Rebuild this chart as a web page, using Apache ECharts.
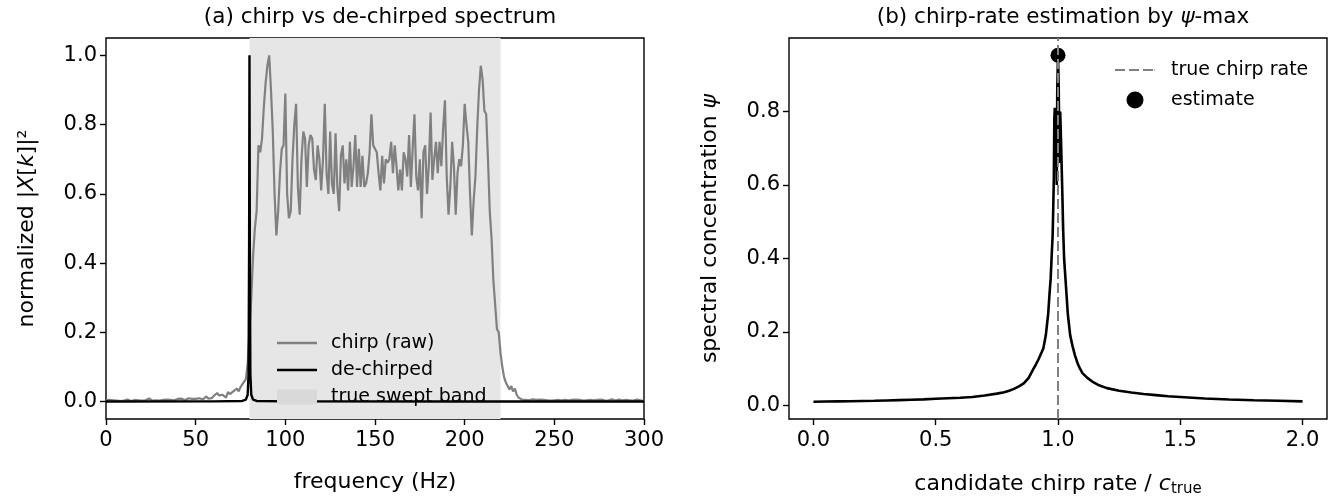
<!DOCTYPE html>
<html>
<head>
<meta charset="utf-8">
<script src="https://cdn.jsdelivr.net/npm/echarts@6/dist/echarts.min.js"></script>
<style>html,body{margin:0;padding:0;background:#fff}#c{width:1344px;height:502px}</style>
</head>
<body>
<div id="c"></div>
<script>
// ---------- data ----------
const chirpStartHz = 0; // chirp spectrum sampled every 1 Hz from 0 Hz
const chirpVals = [
 0.004,0.003,0.005,0.002,0.004,0.006,0.003,0.004,0.002,0.005,
 0.003,0.004,0.006,0.003,0.002,0.004,0.005,0.003,0.004,0.006,
 0.003,0.005,0.004,0.007,0.009,0.004,0.003,0.005,0.004,0.006,
 0.003,0.004,0.005,0.003,0.006,0.004,0.005,0.007,0.004,0.006,
 0.008,0.005,0.009,0.006,0.004,0.007,0.010,0.006,0.008,0.012,
 0.008,0.006,0.010,0.012,0.007,0.011,0.015,0.009,0.013,0.010,
 0.016,0.012,0.025,0.018,0.014,0.020,0.016,0.012,0.028,0.022,
 0.018,0.030,0.025,0.038,0.030,0.042,0.050,0.045,0.065,0.110,
 0.20,0.30,0.42,0.50,0.55,0.74,0.72,0.76,0.85,0.92,
 0.97,1.00,0.90,0.78,0.60,0.48,0.55,0.66,0.73,0.74,
 0.89,0.60,0.53,0.55,0.70,0.80,0.86,0.62,0.54,0.70,
 0.78,0.76,0.62,0.74,0.77,0.76,0.67,0.64,0.74,0.70,
 0.61,0.70,0.86,0.66,0.60,0.78,0.63,0.60,0.775,0.62,
 0.55,0.71,0.74,0.63,0.70,0.61,0.75,0.62,0.68,0.77,
 0.62,0.73,0.62,0.71,0.62,0.63,0.66,0.72,0.83,0.74,
 0.745,0.72,0.66,0.61,0.71,0.63,0.70,0.69,0.70,0.75,
 0.66,0.74,0.68,0.61,0.67,0.61,0.72,0.70,0.65,0.77,
 0.62,0.73,0.83,0.65,0.61,0.70,0.53,0.72,0.74,0.60,
 0.68,0.835,0.64,0.70,0.75,0.66,0.75,0.68,0.79,0.87,
 0.65,0.54,0.62,0.75,0.68,0.54,0.66,0.70,0.68,0.74,
 0.86,0.80,0.75,0.60,0.48,0.58,0.65,0.79,0.90,0.97,
 0.93,0.84,0.83,0.70,0.55,0.47,0.35,0.28,0.21,0.20,
 0.14,
 0.10,0.07,0.055,0.045,0.035,0.045,0.03,0.038,0.02,0.012,
 0.008,0.006,0.007,0.005,0.006,0.004,0.005,0.007,0.004,0.005,
 0.003,0.006,0.004,0.005,0.003,0.004,0.006,0.003,0.005,0.004,
 0.003,0.005,0.007,0.004,0.003,0.005,0.009,0.004,0.003,0.005,
 0.004,0.006,0.003,0.005,0.004,0.003,0.006,0.004,0.003,0.005,
 0.008,0.004,0.003,0.005,0.004,0.006,0.003,0.004,0.005,0.003,
 0.004,0.007,0.005,0.003,0.004,0.006,0.003,0.004,0.008,0.005,
 0.003,0.004,0.005,0.003,0.004,0.006,0.003,0.004,0.005,0.003
];
const dechirpFreq = [0, 60, 76, 78, 79, 79.5, 79.8, 80, 80.2, 80.5, 81, 82, 84, 100, 200, 300];
const dechirpVals = [0.0005, 0.0008, 0.002, 0.006, 0.02, 0.08, 0.45, 1.0, 0.45, 0.08, 0.02, 0.006, 0.002, 0.0008, 0.0005, 0.0004];
const sweptBand = [80, 220];

const rateVals = [0.00,0.05,0.10,0.15,0.20,0.25,0.30,0.35,0.40,0.45,0.50,0.55,0.60,0.65,0.70,0.75,0.78,0.80,0.82,0.84,0.86,0.88,0.90,0.91,0.92,0.93,0.94,0.95,0.955,0.96,0.965,0.97,0.975,0.978,0.98,0.983,0.985,0.987,0.99,0.993,0.995,0.997,1.000,1.003,1.006,1.009,1.012,1.015,1.018,1.021,1.025,1.03,1.035,1.04,1.045,1.05,1.06,1.07,1.08,1.09,1.10,1.12,1.14,1.17,1.20,1.25,1.30,1.35,1.40,1.45,1.50,1.60,1.70,1.80,1.90,2.00];
const psiVals  = [0.010,0.0105,0.011,0.0115,0.012,0.0125,0.0135,0.0145,0.0155,0.0165,0.018,0.0195,0.021,0.023,0.027,0.032,0.036,0.040,0.045,0.052,0.060,0.075,0.100,0.112,0.125,0.140,0.155,0.19,0.22,0.25,0.30,0.345,0.42,0.46,0.52,0.62,0.78,0.81,0.80,0.72,0.60,0.86,0.953,0.86,0.66,0.80,0.73,0.73,0.57,0.48,0.40,0.35,0.30,0.25,0.22,0.19,0.16,0.135,0.115,0.10,0.088,0.075,0.065,0.054,0.047,0.040,0.035,0.031,0.028,0.025,0.023,0.019,0.016,0.014,0.0125,0.011];
const trueRate = 1.0;
const estimate = [1.0, 0.953];

const leftXTicks = [0, 50, 100, 150, 200, 250, 300];
const leftYTicks = [0.0, 0.2, 0.4, 0.6, 0.8, 1.0];
const rightXTicks = [0.0, 0.5, 1.0, 1.5, 2.0];
const rightYTicks = [0.0, 0.2, 0.4, 0.6, 0.8];

// ---------- chart ----------
const FONT = 'DejaVu Sans';
const FS = 21;
const LFS = 19;
const chirpData = chirpVals.map((v, i) => [chirpStartHz + i, v]);
const dechirpData = dechirpFreq.map((f, i) => [f, dechirpVals[i]]);
const psiData = rateVals.map((r, i) => [r, psiVals[i]]);

function axisCommon(ticks, fmt, margin) {
  return {
    axisLine: { show: false, onZero: false },
    axisTick: { show: true, inside: false, length: 6, customValues: ticks, lineStyle: { color: '#000', width: 1.4 } },
    axisLabel: { show: true, customValues: ticks, formatter: fmt, color: '#000', fontFamily: FONT, fontSize: FS, margin: margin },
    splitLine: { show: false }
  };
}
const lineIcon = 'path://M0,0H40V2.4H0Z';
const dashIcon = 'path://M0,0H10V2.2H0Z M14,0H24V2.2H14Z M28,0H38V2.2H28Z M39.5,0H40V2.2H39.5Z';

const chart = echarts.init(document.getElementById('c'), null, { renderer: 'canvas' });
chart.setOption({
  animation: false,
  backgroundColor: '#fff',
  title: [
    { text: '(a) chirp vs de-chirped spectrum', left: 375, top: 1, textAlign: 'center',
      textStyle: { fontFamily: FONT, fontSize: 21.5, fontWeight: 'normal', color: '#000' } },
    { text: '(b) chirp-rate estimation by {i|ψ}-max', left: 1058, top: 1, textAlign: 'center',
      textStyle: { fontFamily: FONT, fontSize: 21.5, fontWeight: 'normal', color: '#000',
        rich: { i: { fontFamily: FONT, fontSize: 21.5, fontStyle: 'italic', color: '#000' } } } }
  ],
  grid: [
    { left: 106, top: 38, width: 538, height: 381, show: true, borderColor: '#000', borderWidth: 1.4, backgroundColor: 'transparent' },
    { left: 789, top: 38, width: 538, height: 381, show: true, borderColor: '#000', borderWidth: 1.4, backgroundColor: 'transparent' }
  ],
  xAxis: [
    Object.assign({ type: 'value', gridIndex: 0, min: 0, max: 300,
      name: 'frequency (Hz)', nameLocation: 'middle', nameGap: 52,
      nameTextStyle: { fontFamily: FONT, fontSize: 22, color: '#000' } },
      axisCommon(leftXTicks, v => String(v), 11)),
    Object.assign({ type: 'value', gridIndex: 1, min: -0.1, max: 2.1,
      name: '{n|candidate chirp rate / }{i|c}{s|true}', nameLocation: 'middle', nameGap: 52,
      nameTextStyle: { fontFamily: FONT, fontSize: 22, color: '#000',
        rich: {
          n: { fontFamily: FONT, fontSize: 22, color: '#000', lineHeight: 26 },
          i: { fontFamily: FONT, fontSize: 22, fontStyle: 'italic', color: '#000', lineHeight: 26 },
          s: { fontFamily: FONT, fontSize: 15, color: '#000', lineHeight: 14, verticalAlign: 'bottom' }
        } } },
      axisCommon(rightXTicks, v => v.toFixed(1), 11))
  ],
  yAxis: [
    Object.assign({ type: 'value', gridIndex: 0, min: -0.05, max: 1.05,
      name: 'normalized |{i|X}[{i|k}]|²', nameLocation: 'middle', nameGap: 68, nameRotate: 90,
      nameTextStyle: { fontFamily: FONT, fontSize: 22, color: '#000',
        rich: { i: { fontFamily: FONT, fontSize: 22, fontStyle: 'italic', color: '#000' } } } },
      axisCommon(leftYTicks, v => v.toFixed(1), 9)),
    Object.assign({ type: 'value', gridIndex: 1, min: -0.037, max: 1.0,
      name: 'spectral concentration {i|ψ}', nameLocation: 'middle', nameGap: 68, nameRotate: 90,
      nameTextStyle: { fontFamily: FONT, fontSize: 22, color: '#000',
        rich: { i: { fontFamily: FONT, fontSize: 22, fontStyle: 'italic', color: '#000' } } } },
      axisCommon(rightYTicks, v => v.toFixed(1), 9))
  ],
  legend: [
    { orient: 'vertical', left: 272, top: 327, itemWidth: 40, itemHeight: 15, itemGap: 5,
      textStyle: { fontFamily: FONT, fontSize: LFS, lineHeight: 22, color: '#000', padding: [0, 0, 0, 9] },
      selectedMode: false,
      data: [
        { name: 'chirp (raw)', icon: lineIcon, itemStyle: { color: '#808080' } },
        { name: 'de-chirped', icon: lineIcon, itemStyle: { color: '#000' } },
        { name: 'true swept band', icon: 'rect', itemStyle: { color: '#d9d9d9' } }
      ] },
    { orient: 'vertical', left: 1110, top: 54, itemWidth: 40, itemHeight: 17, itemGap: 8,
      textStyle: { fontFamily: FONT, fontSize: LFS, lineHeight: 22, color: '#000', padding: [0, 0, 0, 11] },
      selectedMode: false,
      data: [
        { name: 'true chirp rate', icon: dashIcon, itemStyle: { color: '#808080' } },
        { name: 'estimate', icon: 'circle', itemStyle: { color: '#000', opacity: 1 } }
      ] }
  ],
  series: [
    { name: 'true swept band', type: 'line', xAxisIndex: 0, yAxisIndex: 0, data: [], symbol: 'none', z: 0,
      itemStyle: { color: '#d9d9d9' }, lineStyle: { width: 0 },
      markArea: { silent: true, itemStyle: { color: '#e6e6e6' },
        data: [[ { xAxis: sweptBand[0] }, { xAxis: sweptBand[1] } ]] } },
    { name: 'chirp (raw)', type: 'line', xAxisIndex: 0, yAxisIndex: 0, data: chirpData, symbol: 'none', z: 2,
      lineStyle: { color: '#808080', width: 2.2 }, itemStyle: { color: '#808080' } },
    { name: 'de-chirped', type: 'line', xAxisIndex: 0, yAxisIndex: 0, data: dechirpData, symbol: 'none', z: 3,
      lineStyle: { color: '#000', width: 2.4 }, itemStyle: { color: '#000' } },
    { name: 'psi', type: 'line', xAxisIndex: 1, yAxisIndex: 1, data: psiData, symbol: 'none', z: 2,
      lineStyle: { color: '#000', width: 2.6 }, itemStyle: { color: '#000' } },
    { name: 'true chirp rate', type: 'line', xAxisIndex: 1, yAxisIndex: 1, data: [], symbol: 'none', z: 3,
      lineStyle: { color: '#808080', width: 2, type: [10, 4] }, itemStyle: { color: '#808080' },
      markLine: { silent: true, symbol: 'none', label: { show: false },
        lineStyle: { color: '#808080', width: 2, type: [10, 4] },
        data: [ { xAxis: trueRate } ] } },
    { name: 'estimate', type: 'scatter', xAxisIndex: 1, yAxisIndex: 1, data: [estimate], symbol: 'circle', symbolSize: 15, z: 4,
      itemStyle: { color: '#000', opacity: 1 } }
  ]
});
</script>
</body>
</html>
